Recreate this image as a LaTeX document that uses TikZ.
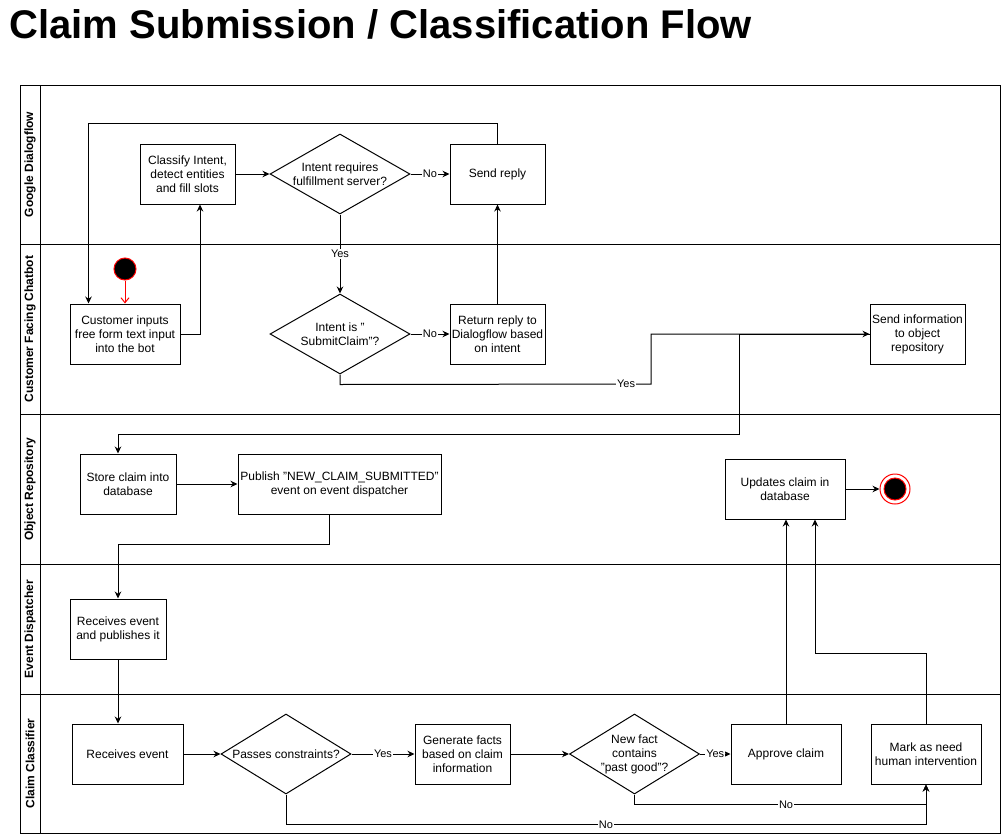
\documentclass[tikz,border=0pt]{standalone}
\usepackage{fontspec}
\setmainfont{Liberation Sans}
\usetikzlibrary{shapes.geometric, arrows.meta}

\begin{document}
\begin{tikzpicture}[x=1pt, y=-1pt, line width=1pt, font=\fontsize{12}{14}\selectfont, >={Stealth[length=7pt,width=6.5pt]},
                    box/.style={draw, rectangle, align=center, inner sep=1pt, minimum height=60pt},
                    decision/.style={draw, diamond, inner sep=0pt, minimum width=140pt, minimum height=80pt},
                    lbl/.style={fill=white, inner sep=1pt, font=\fontsize{11}{12}\selectfont},
                    lane/.style={rotate=90, font=\fontsize{12}{14}\selectfont\bfseries}]
                      \useasboundingbox (0,0) rectangle (1001,835);

                      \node[anchor=base west, inner sep=0pt, font=\fontsize{40}{44}\selectfont\bfseries] (title) at (9,38) {Claim Submission / Classification Flow};

                      \draw (20,85) rectangle (1000,833);
                      \draw (40,85) -- (40,833);
                      \draw (20,244) -- (1000,244);
                      \draw (20,414) -- (1000,414);
                      \draw (20,564) -- (1000,564);
                      \draw (20,694) -- (1000,694);
                      \node[lane] (laneA) at (30,164.5) {Google Dialogflow};
                      \node[lane] (laneB) at (30,329) {Customer Facing Chatbot};
                      \node[lane] (laneC) at (30,489) {Object Repository};
                      \node[lane] (laneD) at (30,629) {Event Dispatcher};
                      \node[lane] (laneE) at (30,763.5) {Claim Classifier};

                      \node[box, minimum width=95pt] (classify) at (187.5,174) {Classify Intent,\\detect entities\\and fill slots};
                      \node[decision, label={[align=center]center:Intent requires\\fulfillment server?}] (ffq) at (340,174) {};
                      \node[box, minimum width=95pt] (sendreply) at (497.5,174) {Send reply};

                      \node[circle, draw=red, fill=black, minimum size=22pt, inner sep=0pt] (start) at (125,269) {};
                      \node[box, minimum width=110pt] (customer) at (125,334) {Customer inputs\\free form text input\\into the bot};
                      \node[decision, label={[align=center]center:Intent is "\\SubmitClaim"?}] (submitq) at (340,334) {};
                      \node[box, minimum width=95pt] (returnreply) at (497.5,334) {Return reply to\\Dialogflow based\\on intent};
                      \node[box, minimum width=95pt] (sendinfo) at (917.5,334) {Send information\\to object\\repository};

                      \node[box, minimum width=96pt] (store) at (128,484) {Store claim into\\database};
                      \node[box, minimum width=203pt] (publish) at (339.5,484) {Publish "NEW\_CLAIM\_SUBMITTED"\\event on event dispatcher};
                      \node[box, minimum width=120pt] (updates) at (785,489) {Updates claim in\\database};
                      \node[circle, draw=red, minimum size=30pt, inner sep=0pt] (finish) at (895,489) {};
                      \draw[red, fill=black] (finish.center) circle (11pt);

                      \node[box, minimum width=96pt] (dispatch) at (118,629) {Receives event\\and publishes it};

                      \node[box, minimum width=111pt] (recevent) at (127.5,754) {Receives event};
                      \node[decision, minimum width=130pt, label={[align=center]center:Passes constraints?}] (passesq) at (286,754) {};
                      \node[box, minimum width=95pt] (generate) at (462.5,754) {Generate facts\\based on claim\\information};
                      \node[decision, minimum width=130pt, label={[align=center]center:New fact\\contains\\"past good"?}] (factq) at (634.5,754) {};
                      \node[box, minimum width=110pt] (approve) at (786,754) {Approve claim};
                      \node[box, minimum width=110pt] (mark) at (926,754) {Mark as need\\human intervention};

                      \draw[red, -{Straight Barb[length=5pt,width=8pt]}] (start) -- (customer);
                      \draw[->] (customer.east) -| ([xshift=12.5pt]classify.south);
                      \draw[->] (classify) -- (ffq);
                      \draw[->] (ffq) -- node[lbl] {No} (sendreply);
                      \draw[->] (sendreply.north) -- ++(0,-20) -| ([xshift=19pt]customer.north west);
                      \draw[->] (ffq) -- node[lbl] {Yes} (submitq);
                      \draw[->] (submitq) -- node[lbl] {No} (returnreply);
                      \draw[->] (returnreply) -- (sendreply);
                      \draw[->] (submitq.south) -- ++(0,10) -- node[lbl, pos=0.92] {Yes} (651,384) |- (sendinfo.west);
                      \draw[->] (sendinfo.west) -- (739,334) -- (739,434) -| ([xshift=-10pt]store.north);
                      \draw[->] (store) -- (publish);
                      \draw[->] ([xshift=-10.5pt]publish.south) -- ++(0,30) -| (dispatch.north);
                      \draw[->] (dispatch.south) -- (dispatch.south |- recevent.north);
                      \draw[->] (recevent) -- (passesq);
                      \draw[->] (passesq) -- node[lbl] {Yes} (generate);
                      \draw[->] (generate) -- (factq);
                      \draw[->] (factq) -- node[lbl] {Yes} (approve);
                      \draw[->] (factq.south) -- ++(0,10) -| node[lbl, pos=0.26] {No} (mark.south);
                      \draw[->] (passesq.south) -- ++(0,30) -| node[lbl, pos=0.25] {No} (mark.south);
                      \draw[->] (approve.north) -- (approve.north |- updates.south);
                      \draw[->] (mark.north) -- ++(0,-70) -| ([xshift=30pt]updates.south);
                      \draw[->] (updates) -- (finish);

                    \end{tikzpicture}
\end{document}
